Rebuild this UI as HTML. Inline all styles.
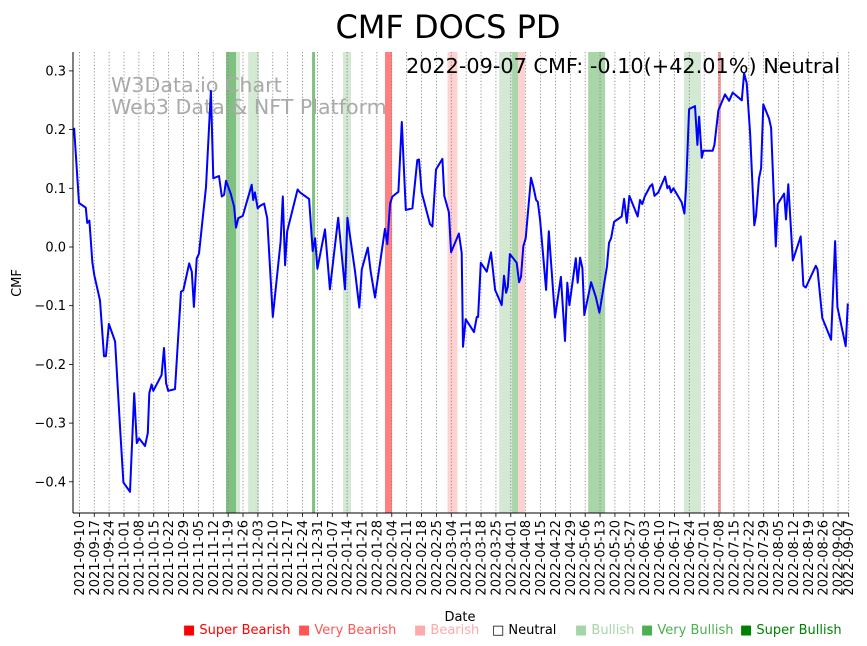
<!DOCTYPE html>
<html><head><meta charset="utf-8"><style>
html,body{margin:0;padding:0;background:#fff;}
svg{display:block;font-family:"Liberation Sans","DejaVu Sans",sans-serif;}
</style></head><body>
<svg id="chart" width="867" height="646" viewBox="0 0 867 646">
<text x="448" y="38" text-anchor="middle" font-size="32" fill="#000" font-family="DejaVu Sans, Liberation Sans, sans-serif">CMF DOCS PD</text>
<g id="bands"></g>
<g id="grid"></g>
<text x="111" y="92" font-size="20.6" fill="#aaa" font-family="DejaVu Sans, Liberation Sans, sans-serif">W3Data.io Chart</text>
<text x="111" y="114" font-size="20.6" fill="#aaa" font-family="DejaVu Sans, Liberation Sans, sans-serif">Web3 Data &amp; NFT Platform</text>
<text x="840" y="73" text-anchor="end" font-size="20.8" fill="#000" font-family="DejaVu Sans, Liberation Sans, sans-serif">2022-09-07 CMF: -0.10(+42.01%) Neutral</text>
<g id="series"></g>
<g id="axes"></g>
<text x="0" y="0" transform="translate(21,283) rotate(-90)" text-anchor="middle" font-size="13" font-family="DejaVu Sans, Liberation Sans, sans-serif">CMF</text>
<text x="460" y="621" text-anchor="middle" font-size="13" font-family="DejaVu Sans, Liberation Sans, sans-serif">Date</text>
<g font-size="13" font-family="DejaVu Sans, Liberation Sans, sans-serif">
<text x="183" y="634" fill="#ff0000">■ Super Bearish</text>
<text x="298" y="634" fill="#ff5555">■ Very Bearish</text>
<text x="414" y="634" fill="#ffaaaa">■ Bearish</text>
<text x="492" y="634" fill="#000">□ Neutral</text>
<text x="575" y="634" fill="#a5d6a7">■ Bullish</text>
<text x="641" y="634" fill="#4caf50">■ Very Bullish</text>
<text x="740" y="634" fill="#008000">■ Super Bullish</text>
</g>
</svg>
<script>
// day offsets from 2021-09-07
const dayIndex = [0.5,2.8,6.0,6.7,7.7,9.1,10.0,12.7,14.6,15.5,16.9,19.8,22.1,23.7,26.8,28.8,30.0,31.1,33.9,35.2,35.9,37.0,37.8,41.7,42.8,43.8,44.8,48.0,50.8,51.9,54.7,55.9,56.9,58.2,59.3,62.6,64.9,66.0,68.7,70.0,71.1,72.0,74.2,75.8,76.7,77.8,79.9,84.1,84.8,85.6,86.9,88.0,89.9,91.4,94.0,97.7,98.7,99.8,100.8,105.7,106.8,111.1,112.8,113.9,115.0,118.6,120.9,124.8,128.0,129.1,132.7,134.7,135.9,138.7,140.1,142.1,146.8,147.9,149.2,150.3,153.1,154.7,156.6,159.7,162.0,162.8,164.1,168.0,169.1,170.8,173.8,174.7,176.9,177.9,181.6,182.9,183.5,184.8,188.7,190.0,190.6,191.9,194.7,196.7,198.6,201.7,202.8,203.8,204.6,205.6,208.8,209.9,210.8,211.9,213.0,215.5,216.6,217.9,218.7,219.8,222.6,223.9,226.8,229.6,231.5,232.6,233.6,236.6,237.5,238.6,239.7,240.6,243.8,246.0,247.7,251.2,252.2,253.2,254.6,258.2,259.3,260.6,261.8,265.7,266.8,267.9,269.0,271.5,272.6,273.6,275.4,278.6,279.7,280.6,281.4,282.5,286.4,287.7,288.5,289.9,292.7,293.8,294.6,295.9,296.6,301.0,301.8,303.7,306.8,308.7,310.4,314.7,315.8,317.0,318.6,320.6,321.4,322.8,323.8,324.8,327.5,328.5,330.7,331.6,334.6,335.5,336.6,338.7,342.4,343.7,344.8,349.5,350.3,352.6,356.7,358.6,359.7,363.6,364.6];
const cmfValues = [0.203,0.075,0.067,0.041,0.045,-0.025,-0.048,-0.091,-0.186,-0.186,-0.131,-0.161,-0.306,-0.401,-0.417,-0.249,-0.334,-0.326,-0.339,-0.317,-0.249,-0.234,-0.245,-0.218,-0.172,-0.232,-0.245,-0.242,-0.076,-0.074,-0.028,-0.042,-0.102,-0.020,-0.011,0.102,0.266,0.117,0.121,0.086,0.089,0.113,0.091,0.069,0.033,0.049,0.053,0.106,0.080,0.093,0.066,0.070,0.074,0.049,-0.119,0.009,0.086,-0.031,0.027,0.098,0.093,0.082,-0.007,0.015,-0.037,0.030,-0.072,0.050,-0.072,0.050,-0.041,-0.103,-0.038,-0.001,-0.042,-0.086,0.031,0.005,0.074,0.086,0.094,0.213,0.063,0.066,0.148,0.149,0.093,0.039,0.035,0.132,0.150,0.087,0.059,-0.009,0.023,-0.010,-0.170,-0.123,-0.145,-0.119,-0.119,-0.027,-0.042,-0.009,-0.073,-0.099,-0.049,-0.078,-0.068,-0.012,-0.027,-0.060,-0.051,0.001,0.015,0.118,0.103,0.080,0.077,0.046,-0.073,0.027,-0.120,-0.051,-0.160,-0.061,-0.099,-0.019,-0.061,-0.018,-0.036,-0.116,-0.060,-0.085,-0.112,-0.034,0.007,0.015,0.043,0.052,0.082,0.041,0.087,0.052,0.080,0.073,0.086,0.103,0.107,0.087,0.093,0.120,0.100,0.104,0.093,0.100,0.076,0.057,0.103,0.235,0.240,0.174,0.222,0.152,0.164,0.164,0.174,0.233,0.260,0.249,0.263,0.250,0.296,0.279,0.194,0.037,0.053,0.117,0.134,0.243,0.219,0.203,0.001,0.073,0.091,0.047,0.107,-0.023,0.018,-0.066,-0.069,-0.032,-0.038,-0.121,-0.158,0.010,-0.102,-0.169,-0.096];
const bandStarts = [72.0,76.7,82.4,112.5,127.0,146.8,176.2,200.5,206.6,209.4,242.4,287.5,303.5];
const bandEnds   = [76.7,78.6,87.5,113.9,130.8,150.1,180.9,206.6,209.4,212.7,250.4,295.5,304.9];
const bandLevels = ['very-bullish','bullish-strong','bullish','very-bullish','bullish','super-bearish','bearish','bullish','bullish-medium','bearish','bullish-medium','bullish','very-bearish'];
const yTicks = [0.3,0.2,0.1,0.0,-0.1,-0.2,-0.3,-0.4];
const yTickLabels = ['0.3','0.2','0.1','0.0','\u22120.1','\u22120.2','\u22120.3','\u22120.4'];

const NS='http://www.w3.org/2000/svg';
const X0=73, X1=848.7, YT=52, YB=513;
const dayPx=(X1-X0)/365;
function xScale(d){return X0+d*dayPx;}
function yScale(v){return 247-v*587;}
function mk(tag,attrs,parent){const e=document.createElementNS(NS,tag);for(const k in attrs)e.setAttribute(k,attrs[k]);parent.appendChild(e);return e;}
const bandColor={'super-bearish':'#ff8080','very-bearish':'#f7a0a0','bearish':'#ffd2d2','bullish':'#d3e9d3','bullish-medium':'#a9d5a9','bullish-strong':'#d3e9d3','very-bullish':'#80c080'};

const gB=document.getElementById('bands');
for(let i=0;i<bandStarts.length;i++){
  const r=mk('rect',{x:xScale(bandStarts[i]),y:YT,width:xScale(bandEnds[i])-xScale(bandStarts[i]),height:YB-YT,fill:bandColor[bandLevels[i]]},gB);
  
  
}

const base=new Date(Date.UTC(2021,8,7));
const tickDays=[];for(let d=3;d<=360;d+=7)tickDays.push(d);tickDays.push(365);
const gG=document.getElementById('grid');
const gA=document.getElementById('axes');
tickDays.forEach(d=>{
  const x=xScale(d);
  const l=mk('line',{x1:x,x2:x,y1:YT,y2:YB,stroke:'#777','stroke-width':0.8,'stroke-dasharray':'1.2,2'},gG);
  
  
  const t=mk('line',{x1:x,x2:x,y1:YB,y2:YB+4,stroke:'#000','stroke-width':0.8},gA);
  
  
  const dt=new Date(base.getTime()+d*86400000);
  const s=dt.toISOString().slice(0,10);
  const tx=mk('text',{transform:'translate('+(x+4.5)+','+(YB+7)+') rotate(-90)','text-anchor':'end','font-size':13,'font-family':'DejaVu Sans, Liberation Sans, sans-serif'},gA);
  tx.textContent=s;
  
  
});
yTicks.forEach((v,i)=>{
  const y=yScale(v);
  const t=mk('line',{x1:X0-4,x2:X0,y1:y,y2:y,stroke:'#000','stroke-width':0.8},gA);
  
  
  const tx=mk('text',{x:X0-7,y:y+4.5,'text-anchor':'end','font-size':13,'font-family':'DejaVu Sans, Liberation Sans, sans-serif'},gA);
  tx.textContent=yTickLabels[i];
  
  
});
const ax1=mk('line',{x1:X0,x2:X0,y1:YT,y2:YB,stroke:'#000','stroke-width':1},gA);


const ax2=mk('line',{x1:X0,x2:X1,y1:YB,y2:YB,stroke:'#000','stroke-width':1},gA);



const pts=dayIndex.map((d,i)=>xScale(d).toFixed(1)+','+yScale(cmfValues[i]).toFixed(1)).join(' ');
const pl=mk('polyline',{points:pts,fill:'none',stroke:'#0000ff','stroke-width':2,'stroke-linejoin':'round'},document.getElementById('series'));


</script>
</body></html>
